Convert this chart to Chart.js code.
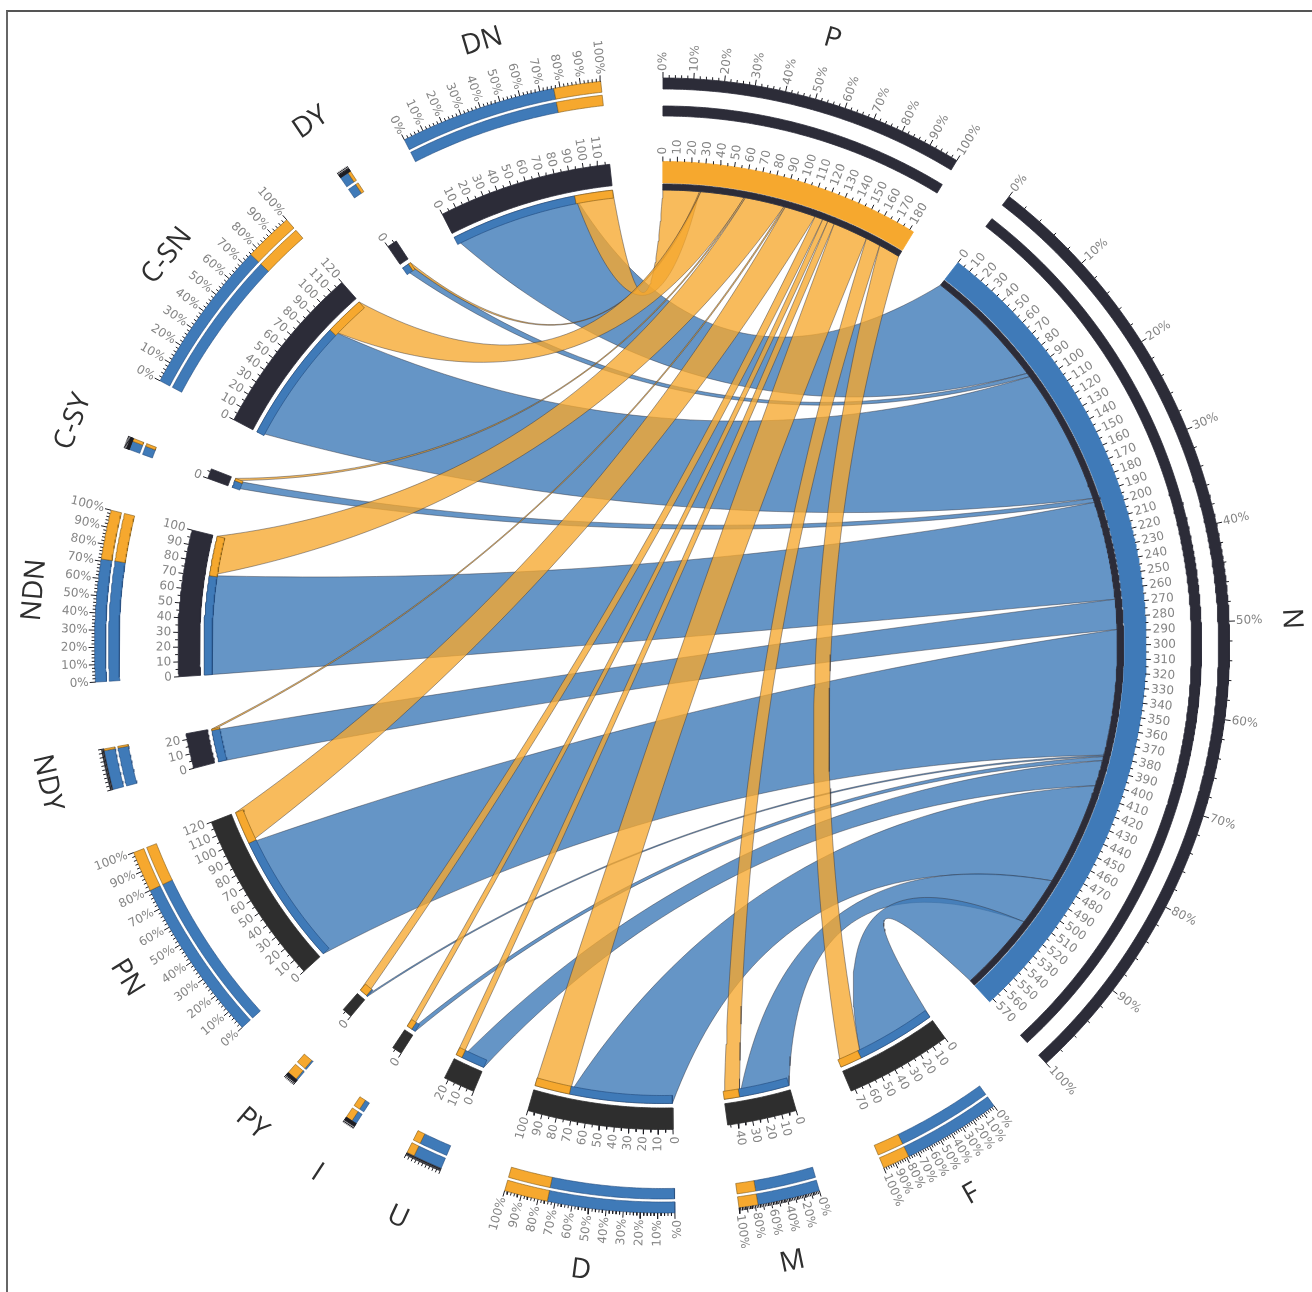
<!DOCTYPE html>
<html lang="en">
<head>
  <meta charset="UTF-8">
  <title>Chord diagram</title>
  <script src="https://cdn.jsdelivr.net/npm/chart.js"></script>
  <style>
    body { margin: 0; background: #fff; }
    #frame { position: absolute; left: 6px; top: 10px; right: 0; bottom: 0; border-left: 2px solid #666; border-top: 2px solid #555; }
    canvas { position: absolute; left: 0; top: 0; }
  </style>
</head>
<body>
  <div id="frame"></div>
  <canvas id="chord" width="1312" height="1292"></canvas>

  <script>
    // flows
    const categories = ['DN', 'DY', 'C-SN', 'C-SY', 'NDN', 'NDY', 'PN', 'PY', 'I', 'U', 'D', 'M', 'F'];
    const toN = [90, 3, 100, 3, 72, 22, 92, 1, 3, 19, 76, 36, 58];
    const toP = [27, 1, 32, 1, 29, 1, 23, 6, 4, 5, 26, 11, 16];
    const axisMax = [118, 7, 120, 7, 100, 24, 120, 7, 7, 23, 100, 47, 73];
    const hubs = ['P', 'N'];
    const hubMax = [183, 573];

    // layout, clockwise degrees from the top
    const sectorStart = [333.0, 325.5, 297.8, 290.2, 266.3, 255.3, 227.7, 220.0, 212.6, 202.9, 178.7, 163.9, 144.2];
    const sectorSpan = [20.8, 1.2, 20.8, 1.2, 17.5, 4.2, 20.9, 1.2, 1.2, 3.8, 17.4, 8.3, 12.8];
    const hubStart = [0.1, 37.7];
    const hubSpan = [31.2, 99.7];
    const percentStep = [10, 0, 10, 0, 10, 0, 10, 0, 0, 0, 10, 20, 10];

    const BLUE = '#3f7ab8', ORANGE = '#f6a82e', DARK = '#2c2c38', GREY = '#2e2e2e';
    const BLUE_FILL = 'rgba(63,122,184,0.8)', ORANGE_FILL = 'rgba(246,168,46,0.78)';
    const EDGE = 'rgba(45,45,55,0.55)';

    const R_OUT = [556.5, 567.5], R_IN = [543, 553.5], R_HUB_IN = [529.5, 539.5], R_BAND = [462.5, 484];
    const R_HUB_DARK = [455.5, 461.5], R_LINK = [450, 458];

    function pt(r, deg) {
      const a = deg * Math.PI / 180;
      return { x: r * Math.sin(a), y: r * Math.cos(a) };
    }

    function arcPoints(r, a0, a1) {
      const n = Math.max(2, Math.ceil(Math.abs(a1 - a0) * 3));
      const out = [];
      for (let i = 0; i <= n; i++) out.push(pt(r, a0 + (a1 - a0) * i / n));
      return out;
    }

    function bandShape(r0, r1, a0, a1) {
      const shape = arcPoints(r1, a0, a1).concat(arcPoints(r0, a1, a0));
      shape.push(shape[0]);
      return shape;
    }

    // quadratic curve, control point pulled in along the chord's midpoint
    function curve(p0, p1) {
      const cx = 0.55 * (p0.x + p1.x) / 2, cy = 0.55 * (p0.y + p1.y) / 2;
      const out = [];
      for (let i = 1; i < 48; i++) {
        const t = i / 48, u = 1 - t;
        out.push({
          x: u * u * p0.x + 2 * u * t * cx + t * t * p1.x,
          y: u * u * p0.y + 2 * u * t * cy + t * t * p1.y
        });
      }
      return out;
    }

    function ribbonShape(a0, a1, b0, b1) {
      const rs = R_LINK[1], rh = R_HUB_DARK[0];
      const shape = [].concat(
        arcPoints(rs, a0, a1),
        curve(pt(rs, a1), pt(rh, b0)),
        arcPoints(rh, b0, b1),
        curve(pt(rh, b1), pt(rs, a0))
      );
      shape.push(shape[0]);
      return shape;
    }

    function polygon(shape, fill, edge, width) {
      return {
        data: shape, showLine: true, fill: 'shape', tension: 0, pointRadius: 0,
        backgroundColor: fill, borderColor: edge || fill, borderWidth: width === undefined ? 0.8 : width
      };
    }

    function sum(list) { return list.reduce((s, v) => s + v, 0); }

    const blueRibbons = [], orangeRibbons = [], bands = [];
    const totals = [sum(toP), sum(toN)];
    let cursor = [0, 0];

    categories.forEach((name, i) => {
      const total = toN[i] + toP[i];
      const split = sectorStart[i] + sectorSpan[i] * toN[i] / total;
      const end = sectorStart[i] + sectorSpan[i];
      const nStart = hubStart[1] + hubSpan[1] * cursor[1] / totals[1];
      const nEnd = hubStart[1] + hubSpan[1] * (cursor[1] + toN[i]) / totals[1];
      const pStart = hubStart[0] + hubSpan[0] * cursor[0] / totals[0];
      const pEnd = hubStart[0] + hubSpan[0] * (cursor[0] + toP[i]) / totals[0];
      cursor = [cursor[0] + toP[i], cursor[1] + toN[i]];

      blueRibbons.push(polygon(ribbonShape(sectorStart[i], split, nStart, nEnd), BLUE_FILL, EDGE));
      orangeRibbons.push(polygon(ribbonShape(split, end, pStart, pEnd), ORANGE_FILL, EDGE));

      const mid = sectorStart[i] + sectorSpan[i] / 2;
      const black = mid > 130 && mid < 250 ? GREY : DARK;
      bands.push(polygon(bandShape(R_BAND[0], R_BAND[1], sectorStart[i], end), black, black));
      bands.push(polygon(bandShape(R_LINK[0], R_LINK[1], sectorStart[i], split), BLUE, 'rgba(30,70,120,0.7)'));
      bands.push(polygon(bandShape(R_LINK[0], R_LINK[1], split, end), ORANGE, 'rgba(120,85,20,0.7)'));
      [R_OUT, R_IN].forEach(r => {
        bands.push(polygon(bandShape(r[0], r[1], sectorStart[i], split), BLUE, 'rgba(30,70,120,0.7)'));
        bands.push(polygon(bandShape(r[0], r[1], split, end), ORANGE, 'rgba(120,85,20,0.7)'));
      });
    });

    hubs.forEach((name, h) => {
      const end = hubStart[h] + hubSpan[h];
      bands.push(polygon(bandShape(R_BAND[0], R_BAND[1], hubStart[h], end), h === 0 ? ORANGE : BLUE));
      bands.push(polygon(bandShape(R_HUB_DARK[0], R_HUB_DARK[1], hubStart[h], end), DARK));
      bands.push(polygon(bandShape(R_OUT[0], R_OUT[1], hubStart[h], end), DARK));
      bands.push(polygon(bandShape(R_HUB_IN[0], R_HUB_IN[1], hubStart[h], end), DARK));
    });

    // ticks and their labels, one list for all sectors
    const tickLines = [];
    const labels = [];

    function addTick(r, len, deg) {
      tickLines.push(pt(r, deg), pt(r + len, deg), { x: NaN, y: NaN });
    }

    function addLabel(r, deg, text) {
      labels.push({ r, deg, text });
    }

    function sectorTicks(start, span, units, step) {
      for (let v = 0; v <= units; v += 5) {
        const deg = start + span * v / units;
        addTick(R_BAND[1], v % 10 === 0 ? 5 : 3, deg);
        if (v % 10 === 0) addLabel(R_BAND[1] + 7, deg, String(v));
      }
      for (let p = 0; p <= 100; p += 2) {
        const deg = start + span * p / 100;
        addTick(R_OUT[1], p % 10 === 0 ? 6 : 3, deg);
        if (step && p % step === 0) addLabel(R_OUT[1] + 7, deg, p + '%');
      }
    }

    categories.forEach((name, i) => sectorTicks(sectorStart[i], sectorSpan[i], axisMax[i], percentStep[i]));
    hubs.forEach((name, h) => sectorTicks(hubStart[h], hubSpan[h], hubMax[h], 10));

    const tickSet = {
      data: tickLines, showLine: true, fill: false, pointRadius: 0, tension: 0,
      borderColor: '#1c1c22', borderWidth: 1
    };

    const sectorNames = categories.map((name, i) => ({ name, deg: sectorStart[i] + sectorSpan[i] / 2 }))
      .concat(hubs.map((name, h) => ({ name, deg: hubStart[h] + hubSpan[h] / 2 })));

    const textPlugin = {
      id: 'chordText',
      afterDraw(chart) {
        const { ctx, scales: { x, y } } = chart;
        ctx.save();
        ctx.textBaseline = 'middle';
        ctx.font = '12px "DejaVu Sans", sans-serif';
        ctx.fillStyle = '#858585';
        labels.forEach(l => {
          const p = pt(l.r, l.deg);
          const flip = l.deg >= 180;
          ctx.save();
          ctx.translate(x.getPixelForValue(p.x), y.getPixelForValue(p.y));
          ctx.rotate(((flip ? l.deg + 90 : l.deg - 90)) * Math.PI / 180);
          ctx.textAlign = flip ? 'right' : 'left';
          ctx.fillText(l.text, 0, 0);
          ctx.restore();
        });
        ctx.font = '28px "Open Sans", sans-serif';
        ctx.fillStyle = '#2f2f2f';
        ctx.textAlign = 'center';
        sectorNames.forEach(s => {
          const p = pt(630, s.deg);
          const turn = s.deg <= 90 ? s.deg : s.deg < 270 ? s.deg - 180 : s.deg - 360;
          ctx.save();
          ctx.translate(x.getPixelForValue(p.x), y.getPixelForValue(p.y));
          ctx.rotate(turn * Math.PI / 180);
          ctx.fillText(s.name, 0, 0);
          ctx.restore();
        });
        ctx.restore();
      }
    };

    new Chart(document.getElementById('chord').getContext('2d'), {
      type: 'scatter',
      data: { datasets: [].concat(blueRibbons, orangeRibbons, bands, [tickSet]).map((d, i, all) => Object.assign(d, { order: all.length - i })) },
      options: {
        responsive: false,
        animation: false,
        events: [],
        layout: { padding: 0 },
        plugins: { legend: { display: false }, tooltip: { enabled: false } },
        scales: {
          x: { type: 'linear', display: false, min: -662, max: 650 },
          y: { type: 'linear', display: false, min: -646.5, max: 645.5 }
        }
      },
      plugins: [textPlugin]
    });
  </script>
</body>
</html>
